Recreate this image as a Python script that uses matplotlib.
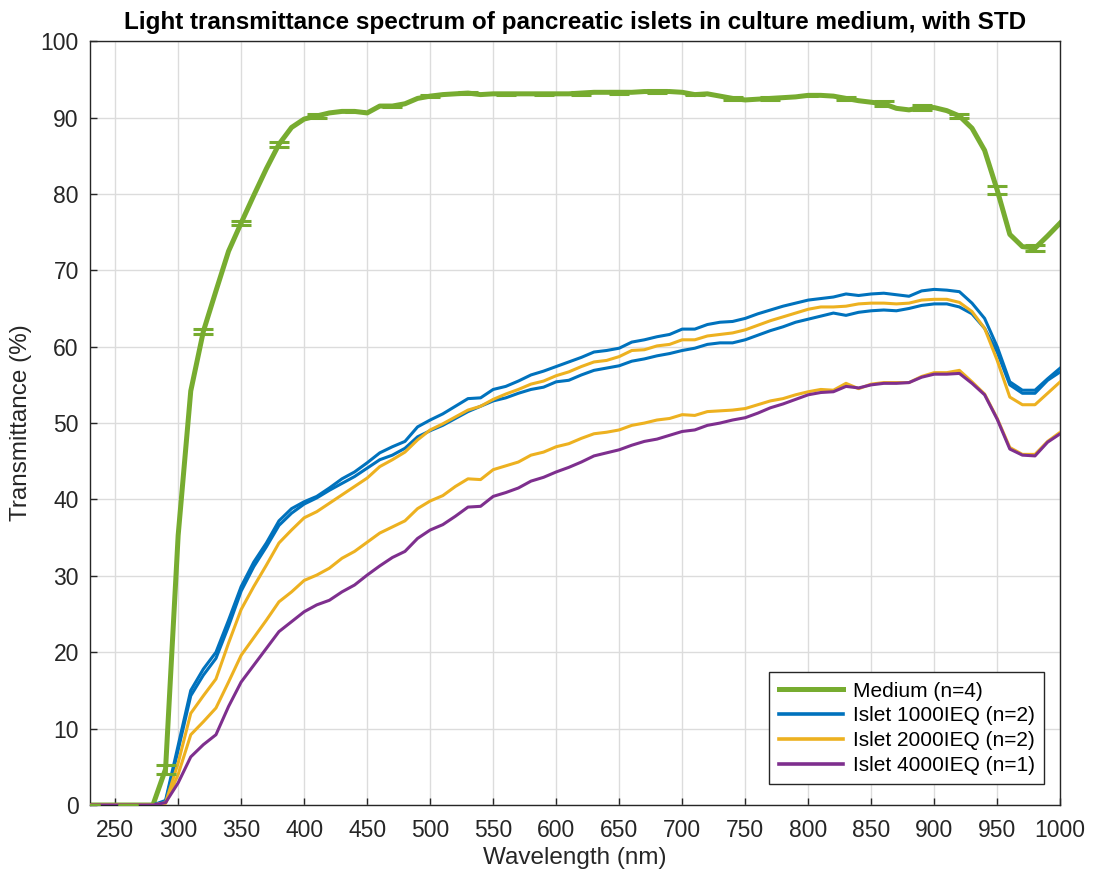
import numpy as np
import matplotlib
matplotlib.use("Agg")
import matplotlib.pyplot as plt

plt.rcParams['font.family'] = ['Liberation Sans', 'DejaVu Sans']

# Wavelength grid (nm)
wavelength = np.arange(230, 1001, 10)

# Culture medium, mean transmittance (%)
medium = [0, 0, 0, 0, 0, 0, 4.7, 35.3, 54.2, 62.0,
          67.3, 72.5, 76.2, 79.8, 83.3, 86.5, 88.7, 89.8, 90.2, 90.6,
          90.8, 90.8, 90.6, 91.5, 91.5, 91.8, 92.5, 92.8, 93.0, 93.1,
          93.2, 93.0, 93.1, 93.1, 93.1, 93.1, 93.1, 93.1, 93.1, 93.2,
          93.3, 93.3, 93.3, 93.3, 93.4, 93.4, 93.4, 93.3, 93.0, 93.1,
          92.8, 92.5, 92.3, 92.4, 92.5, 92.6, 92.7, 92.9, 92.9, 92.8,
          92.5, 92.2, 92.0, 91.8, 91.2, 91.0, 91.3, 91.3, 90.9, 90.2,
          88.6, 85.7, 80.5, 74.7, 73.1, 72.9, 74.5, 76.2]

# Medium standard deviation, shown every 30 nm (230, 260, ..., 980)
medium_std = [0, 0, 0.6, 0.3, 0.3, 0.3, 0.2, 0.1, 0.1, 0.1,
              0.1, 0.1, 0.1, 0.2, 0.2, 0.2, 0.1, 0.2, 0.2, 0.1,
              0.2, 0.3, 0.3, 0.3, 0.5, 0.4]

# Islet 1000IEQ, upper and lower STD envelope
islet1000_hi = [0, 0, 0, 0, 0, 0, 0.6, 7.8, 15.0, 17.8,
                20.0, 24.2, 28.6, 31.8, 34.3, 37.2, 38.8, 39.7, 40.4, 41.5,
                42.7, 43.6, 44.8, 46.1, 46.9, 47.6, 49.5, 50.4, 51.2, 52.2,
                53.2, 53.3, 54.4, 54.8, 55.5, 56.3, 56.8, 57.4, 58.0, 58.6,
                59.3, 59.5, 59.8, 60.6, 60.9, 61.3, 61.6, 62.3, 62.3, 62.9,
                63.2, 63.3, 63.7, 64.3, 64.8, 65.3, 65.7, 66.1, 66.3, 66.5,
                66.9, 66.7, 66.9, 67.0, 66.8, 66.6, 67.3, 67.5, 67.4, 67.2,
                65.7, 63.7, 60.0, 55.4, 54.3, 54.3, 55.8, 57.2]
islet1000_lo = [0, 0, 0, 0, 0, 0, 0.4, 7.2, 14.3, 17.0,
                19.2, 23.4, 28.0, 31.2, 33.8, 36.6, 38.2, 39.4, 40.2, 41.2,
                42.1, 43.0, 44.1, 45.2, 45.8, 46.7, 48.2, 49.0, 49.7, 50.6,
                51.5, 52.2, 52.9, 53.3, 53.9, 54.4, 54.7, 55.4, 55.6, 56.3,
                56.9, 57.2, 57.5, 58.1, 58.4, 58.8, 59.1, 59.5, 59.8, 60.3,
                60.5, 60.5, 60.9, 61.5, 62.1, 62.6, 63.2, 63.6, 64.0, 64.4,
                64.1, 64.5, 64.7, 64.8, 64.7, 65.0, 65.4, 65.6, 65.6, 65.2,
                64.3, 62.4, 59.3, 55.0, 53.9, 53.9, 55.6, 56.7]

# Islet 2000IEQ, upper and lower STD envelope
islet2000_hi = [0, 0, 0, 0, 0, 0, 0.3, 5.5, 12.0, 14.3,
                16.5, 21.2, 25.6, 28.6, 31.4, 34.3, 36.0, 37.6, 38.4, 39.5,
                40.6, 41.7, 42.8, 44.3, 45.2, 46.2, 47.8, 49.1, 49.9, 50.8,
                51.7, 52.2, 53.1, 53.8, 54.4, 55.1, 55.5, 56.2, 56.7, 57.4,
                58.0, 58.2, 58.7, 59.5, 59.6, 60.1, 60.3, 60.9, 60.9, 61.4,
                61.6, 61.8, 62.2, 62.8, 63.4, 63.9, 64.4, 64.9, 65.2, 65.2,
                65.3, 65.6, 65.7, 65.7, 65.6, 65.7, 66.1, 66.2, 66.2, 65.8,
                64.6, 62.4, 58.2, 53.4, 52.4, 52.4, 53.9, 55.4]
islet2000_lo = [0, 0, 0, 0, 0, 0, 0.2, 4.0, 9.2, 10.9,
                12.7, 16.1, 19.6, 21.9, 24.2, 26.6, 27.9, 29.4, 30.1, 31.0,
                32.3, 33.2, 34.4, 35.6, 36.4, 37.2, 38.8, 39.8, 40.5, 41.7,
                42.7, 42.6, 43.9, 44.4, 44.9, 45.8, 46.2, 46.9, 47.3, 48.0,
                48.6, 48.8, 49.1, 49.7, 50.0, 50.4, 50.6, 51.1, 51.0, 51.5,
                51.6, 51.7, 51.9, 52.4, 52.9, 53.2, 53.7, 54.1, 54.4, 54.3,
                55.2, 54.5, 55.1, 55.3, 55.3, 55.3, 56.1, 56.6, 56.6, 56.9,
                55.4, 53.8, 50.6, 46.8, 45.9, 45.9, 47.6, 48.8]

# Islet 4000IEQ, single sample
islet4000 = [0, 0, 0, 0, 0, 0, 0.3, 2.9, 6.3, 7.9,
             9.2, 12.9, 16.1, 18.3, 20.5, 22.7, 24.0, 25.3, 26.2, 26.8,
             27.9, 28.8, 30.1, 31.3, 32.4, 33.2, 34.9, 36.0, 36.7, 37.8,
             39.0, 39.1, 40.4, 40.9, 41.5, 42.4, 42.9, 43.6, 44.2, 44.9,
             45.7, 46.1, 46.5, 47.1, 47.6, 47.9, 48.4, 48.9, 49.1, 49.7,
             50.0, 50.4, 50.7, 51.3, 52.0, 52.5, 53.1, 53.7, 54.0, 54.1,
             54.8, 54.6, 55.0, 55.2, 55.2, 55.3, 56.0, 56.4, 56.4, 56.5,
             55.2, 53.7, 50.5, 46.6, 45.8, 45.7, 47.5, 48.6]

labels = ['Medium (n=4)', 'Islet 1000IEQ (n=2)', 'Islet 2000IEQ (n=2)',
          'Islet 4000IEQ (n=1)']
colors = ['#77AC30', '#0072BD', '#EDB120', '#7E2F8E']

x_ticks = np.arange(250, 1001, 50)
y_ticks = np.arange(0, 101, 10)

fig = plt.figure(figsize=(10.93, 8.75), dpi=100)
ax = fig.add_axes([0.0823, 0.080, 0.8877, 0.873])

h_med, = ax.plot(wavelength, medium, color=colors[0], lw=3.6, zorder=2,
                 solid_joinstyle='round')
h_1000, = ax.plot(wavelength, islet1000_hi, color=colors[1], lw=2.2, zorder=3)
ax.plot(wavelength, islet1000_lo, color=colors[1], lw=2.2, zorder=3)
h_2000, = ax.plot(wavelength, islet2000_hi, color=colors[2], lw=2.2, zorder=4)
ax.plot(wavelength, islet2000_lo, color=colors[2], lw=2.2, zorder=4)
h_4000, = ax.plot(wavelength, islet4000, color=colors[3], lw=2.2, zorder=5)

# Medium error bars every third sample
step = 3
ax.errorbar(wavelength[::step], np.asarray(medium)[::step], yerr=medium_std,
            fmt='none', ecolor=colors[0], elinewidth=2.0, capsize=7,
            capthick=2.2, zorder=6)

ax.set_xlim(230, 1000)
ax.set_ylim(0, 100)
ax.set_xticks(x_ticks)
ax.set_yticks(y_ticks)
ax.tick_params(direction='in', length=5, width=1, colors='#262626',
               labelsize=16.5, top=False, right=False)
ax.tick_params(axis='x', pad=10)
ax.tick_params(axis='y', pad=8)
for lbl in ax.get_xticklabels() + ax.get_yticklabels():
    lbl.set_color('#262626')
for s in ax.spines.values():
    s.set_color('#262626')
    s.set_linewidth(1.0)
ax.grid(True, color='#dcdcdc', lw=1.0)
ax.set_axisbelow(True)

ax.set_xlabel('Wavelength (nm)', fontsize=17.5, color='#262626', labelpad=4)
ax.set_ylabel('Transmittance (%)', fontsize=17.5, color='#262626', labelpad=6)
ax.set_title('Light transmittance spectrum of pancreatic islets in culture medium, with STD',
             fontsize=17.5, fontweight='bold', color='black', pad=9)

leg = ax.legend([h_med, h_1000, h_2000, h_4000], labels, loc='lower right',
                bbox_to_anchor=(0.9835, 0.027), fontsize=15, frameon=True,
                fancybox=False, edgecolor='#262626', framealpha=1,
                handlelength=3.1, borderpad=0.45, labelspacing=0.28,
                handletextpad=0.45, borderaxespad=0)
leg.get_frame().set_linewidth(1.0)
for line in leg.get_lines():
    line.set_linewidth(3.6 if line.get_color() == colors[0] else 2.6)

fig.savefig('out.png', dpi=100)
